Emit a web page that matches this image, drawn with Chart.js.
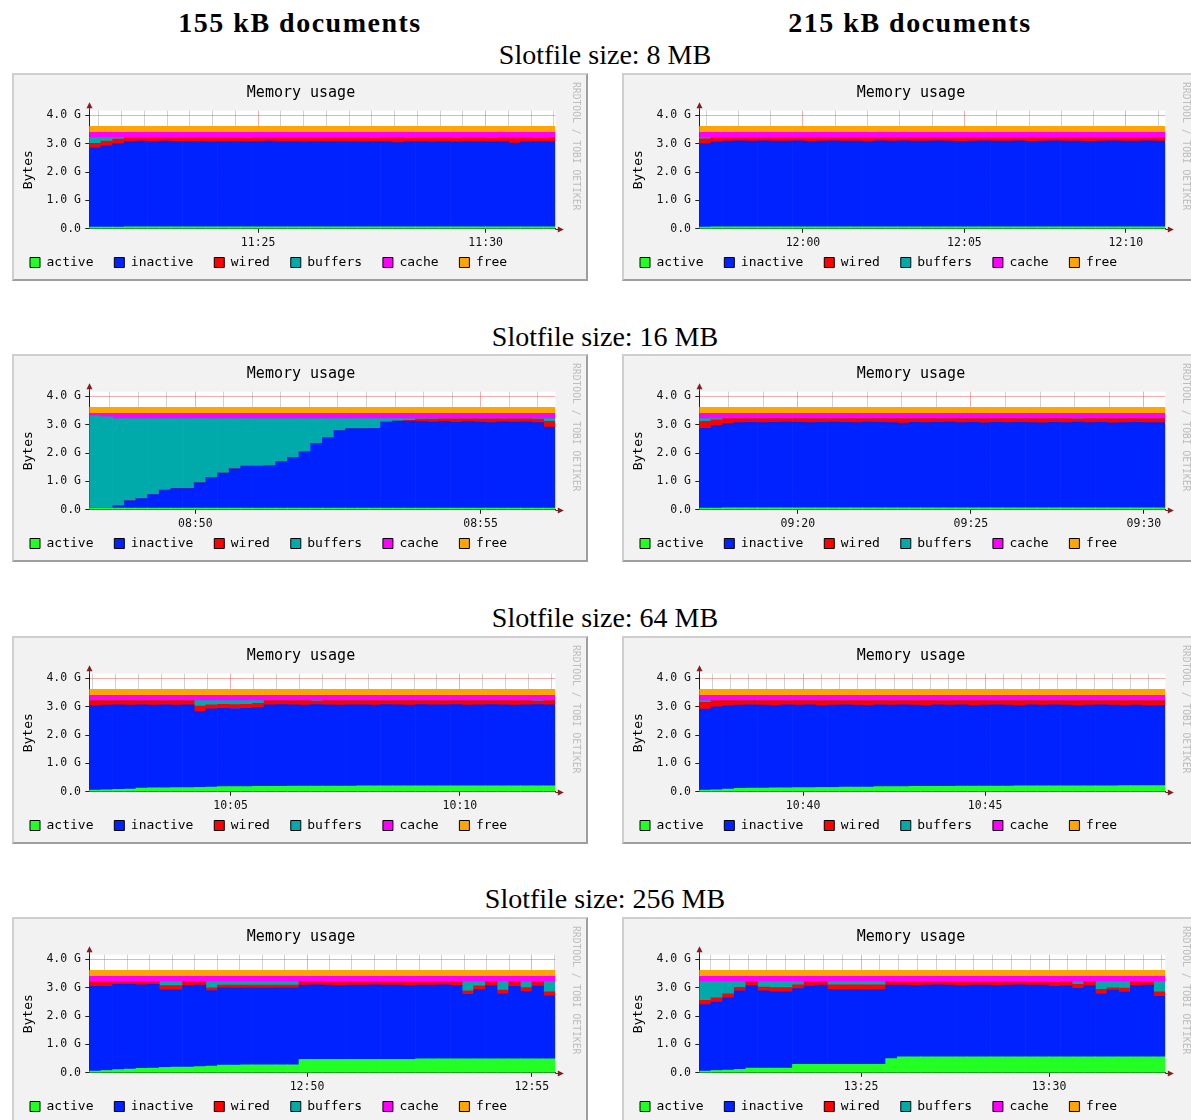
<!DOCTYPE html>
<html>
<head>
<meta charset="utf-8">
<script src="https://cdn.jsdelivr.net/npm/chart.js@4/dist/chart.umd.min.js"></script>
<style>
  html, body { margin: 0; padding: 0; background: #fff; }
  body { width: 1191px; height: 1120px; position: relative; overflow: hidden; }
  .colhead, .rowhead {
    position: absolute; white-space: nowrap; transform: translateX(-50%);
    font-family: "Liberation Serif", serif; font-size: 28px; line-height: 28px; color: #000;
  }
  .colhead { font-weight: bold; letter-spacing: 1.5px; top: 9px; }
  .rowhead { left: 605px; }
  .panel {
    position: absolute; width: 576px; height: 208px; box-sizing: border-box;
    background: #f2f2f2; border: 2px solid; border-color: #cfcfcf #9e9e9e #9e9e9e #cfcfcf;
    overflow: hidden;
  }
  .panel canvas { position: absolute; left: 0; top: 0; }
</style>
</head>
<body>
<div class="colhead" style="left:300px">155 kB documents</div>
<div class="colhead" style="left:910px">215 kB documents</div>
<div class="rowhead" style="top:41px">Slotfile size: 8 MB</div>
<div class="rowhead" style="top:323px">Slotfile size: 16 MB</div>
<div class="rowhead" style="top:604px">Slotfile size: 64 MB</div>
<div class="rowhead" style="top:885px">Slotfile size: 256 MB</div>

<script>
// memory in GB, 40 samples per graph, stacked in this order:
// active, inactive, wired, buffers, cache, free
const cacheBand = [
  0.19,0.19,0.19,0.19,0.19,0.19,0.19,0.19,0.19,0.19,
  0.19,0.19,0.19,0.19,0.19,0.19,0.19,0.19,0.19,0.19,
  0.19,0.19,0.19,0.19,0.19,0.19,0.19,0.19,0.19,0.19,
  0.19,0.19,0.19,0.19,0.19,0.19,0.19,0.19,0.19,0.19];
const freeBand = [
  0.21,0.21,0.21,0.21,0.21,0.21,0.21,0.21,0.21,0.21,
  0.21,0.21,0.21,0.21,0.21,0.21,0.21,0.21,0.21,0.21,
  0.21,0.21,0.21,0.21,0.21,0.21,0.21,0.21,0.21,0.21,
  0.21,0.21,0.21,0.21,0.21,0.21,0.21,0.21,0.21,0.21];

// time window of each graph (minutes after midnight)
const start_8_155 = 681.29,  span_8_155 = 10.24;
const start_8_215 = 716.79,  span_8_215 = 14.43;
const start_16_155 = 528.14, span_16_155 = 8.17;
const start_16_215 = 557.15, span_16_215 = 13.47;
const start_64_155 = 601.92, span_64_155 = 10.16;
const start_64_215 = 637.15, span_64_215 = 12.80;
const start_256_155 = 765.16, span_256_155 = 10.36;
const start_256_215 = 800.70, span_256_215 = 12.39;

// --- 8 MB, 155 kB
const act_8_155 = [
  0.06,0.06,0.06,0.07,0.07,0.07,0.07,0.07,0.07,0.07,
  0.07,0.07,0.07,0.07,0.07,0.07,0.07,0.07,0.07,0.07,
  0.07,0.07,0.07,0.07,0.07,0.07,0.07,0.07,0.07,0.07,
  0.07,0.07,0.07,0.07,0.07,0.07,0.07,0.07,0.07,0.07];
const inact_8_155 = [
  2.80,2.87,2.95,3.01,3.03,3.02,3.03,3.02,3.01,3.02,
  3.00,3.01,3.02,3.01,3.02,3.03,3.02,3.01,3.00,3.02,
  3.01,3.02,3.01,3.00,3.02,3.01,2.97,3.01,3.02,3.00,
  3.02,2.99,3.01,3.02,3.00,3.01,2.96,3.00,3.02,3.01];
const wired_8_155 = [
  0.16,0.17,0.16,0.13,0.12,0.13,0.12,0.13,0.14,0.13,
  0.15,0.14,0.13,0.12,0.13,0.12,0.13,0.14,0.15,0.13,
  0.14,0.13,0.14,0.15,0.11,0.14,0.18,0.12,0.13,0.15,
  0.13,0.14,0.14,0.13,0.13,0.14,0.19,0.15,0.11,0.14];
const buf_8_155 = [
  0.20,0.12,0.05,0.01,0,0,0,0,0,0,
  0,0,0,0.02,0,0,0,0,0,0,
  0,0,0,0,0.02,0,0,0.02,0,0,
  0,0.02,0,0,0.02,0,0,0,0.02,0];

// --- 8 MB, 215 kB
const act_8_215 = [
  0.06,0.07,0.07,0.07,0.07,0.07,0.07,0.07,0.07,0.07,
  0.07,0.07,0.07,0.07,0.07,0.07,0.07,0.07,0.07,0.07,
  0.07,0.07,0.07,0.07,0.07,0.07,0.07,0.07,0.07,0.07,
  0.07,0.07,0.07,0.07,0.07,0.07,0.07,0.07,0.07,0.07];
const inact_8_215 = [
  2.95,3.00,3.03,3.04,3.03,3.04,3.03,3.03,3.04,3.02,
  3.03,3.04,3.03,3.03,3.02,3.04,3.03,3.04,3.03,3.03,
  3.04,3.03,3.02,3.03,3.04,3.03,3.03,3.04,3.02,3.03,
  3.04,3.03,3.03,3.02,3.03,3.04,3.03,3.03,3.04,3.03];
const wired_8_215 = [
  0.17,0.15,0.12,0.11,0.12,0.11,0.12,0.12,0.11,0.13,
  0.12,0.11,0.12,0.12,0.13,0.11,0.12,0.11,0.12,0.12,
  0.11,0.12,0.13,0.12,0.11,0.12,0.12,0.11,0.13,0.12,
  0.11,0.12,0.12,0.13,0.12,0.11,0.12,0.12,0.11,0.12];
const buf_8_215 = [
  0.04,0,0,0,0,0,0,0,0,0,
  0,0,0,0,0,0,0,0,0,0,
  0,0,0,0,0,0,0,0,0,0,
  0,0,0,0,0,0,0,0,0,0];

// --- 16 MB, 155 kB
const act_16_155 = [
  0.06,0.06,0.06,0.06,0.06,0.06,0.06,0.06,0.06,0.06,
  0.06,0.06,0.06,0.06,0.06,0.06,0.06,0.06,0.06,0.06,
  0.06,0.06,0.06,0.06,0.06,0.06,0.06,0.06,0.06,0.06,
  0.06,0.06,0.06,0.06,0.06,0.06,0.06,0.06,0.06,0.06];
const inact_16_155 = [
  0,0,0.09,0.26,0.34,0.48,0.64,0.69,0.69,0.89,
  1.09,1.24,1.39,1.48,1.48,1.50,1.64,1.79,1.99,2.29,
  2.49,2.74,2.81,2.81,2.82,3.04,3.07,3.07,3.06,3.04,
  3.06,3.03,3.06,3.04,3.02,3.05,3.04,3.05,3.02,2.86];
const wired_16_155 = [
  0,0,0,0,0,0,0,0,0,0,
  0,0,0,0,0,0,0,0,0,0,
  0,0,0,0,0,0,0,0.03,0.08,0.10,
  0.09,0.12,0.09,0.11,0.13,0.10,0.11,0.10,0.12,0.20];
const buf_16_155 = [
  3.26,3.22,3.07,2.90,2.82,2.68,2.52,2.47,2.47,2.27,
  2.07,1.92,1.77,1.68,1.68,1.66,1.52,1.37,1.17,0.87,
  0.67,0.42,0.35,0.35,0.34,0.12,0.09,0.06,0.02,0.02,
  0.01,0.01,0.01,0.01,0.01,0.01,0.01,0.01,0.02,0.10];
const cache_16_155 = [
  0.09,0.13,0.19,0.19,0.19,0.19,0.19,0.19,0.19,0.19,
  0.19,0.19,0.19,0.19,0.19,0.19,0.19,0.19,0.19,0.19,
  0.19,0.19,0.19,0.19,0.19,0.19,0.19,0.19,0.19,0.19,
  0.19,0.19,0.19,0.19,0.19,0.19,0.19,0.19,0.19,0.19];

// --- 16 MB, 215 kB
const act_16_215 = [
  0.06,0.06,0.07,0.07,0.07,0.07,0.07,0.07,0.07,0.07,
  0.07,0.07,0.07,0.07,0.07,0.07,0.07,0.07,0.07,0.07,
  0.07,0.07,0.07,0.07,0.07,0.07,0.07,0.07,0.07,0.07,
  0.07,0.07,0.07,0.07,0.07,0.07,0.07,0.07,0.07,0.07];
const inact_16_215 = [
  2.82,2.92,2.98,3.01,3.02,3.01,3.02,3.03,3.02,3.01,
  3.02,3.03,3.02,3.01,3.03,3.02,3.01,2.99,3.02,3.01,
  3.02,3.03,3.01,3.02,3.00,3.02,3.01,3.02,3.01,3.00,
  3.02,3.01,3.03,3.01,3.02,3.00,3.01,3.02,3.01,3.01];
const wired_16_215 = [
  0.24,0.20,0.17,0.14,0.13,0.14,0.13,0.12,0.13,0.14,
  0.13,0.12,0.13,0.14,0.12,0.13,0.14,0.16,0.13,0.14,
  0.13,0.12,0.14,0.13,0.15,0.13,0.14,0.13,0.14,0.15,
  0.13,0.14,0.11,0.14,0.13,0.15,0.14,0.13,0.14,0.14];
const buf_16_215 = [
  0.10,0.04,0,0,0,0,0,0,0,0,
  0,0,0,0,0,0,0,0,0,0,
  0,0,0,0,0,0,0,0,0,0,
  0,0,0.01,0,0,0,0,0,0,0];

// --- 64 MB, 155 kB
const act_64_155 = [
  0.06,0.07,0.09,0.10,0.13,0.14,0.14,0.15,0.15,0.16,
  0.17,0.18,0.18,0.18,0.19,0.19,0.19,0.20,0.20,0.20,
  0.20,0.20,0.20,0.21,0.21,0.21,0.21,0.21,0.21,0.21,
  0.21,0.21,0.21,0.21,0.21,0.21,0.21,0.21,0.21,0.21];
const inact_64_155 = [
  2.98,2.99,2.98,2.96,2.94,2.92,2.93,2.91,2.92,2.67,
  2.76,2.77,2.76,2.77,2.79,2.88,2.89,2.87,2.86,2.88,
  2.87,2.86,2.87,2.86,2.85,2.87,2.86,2.85,2.87,2.86,
  2.86,2.87,2.85,2.86,2.87,2.86,2.85,2.86,2.87,2.86];
const wired_64_155 = [
  0.18,0.16,0.15,0.16,0.15,0.16,0.15,0.16,0.15,0.20,
  0.14,0.14,0.14,0.14,0.14,0.15,0.14,0.15,0.16,0.12,
  0.15,0.16,0.15,0.15,0.16,0.14,0.15,0.16,0.14,0.15,
  0.15,0.14,0.16,0.15,0.14,0.15,0.16,0.15,0.12,0.15];
const buf_64_155 = [
  0,0,0,0,0,0,0,0,0,0.19,
  0.15,0.13,0.14,0.13,0.10,0,0,0,0,0.02,
  0,0,0,0,0,0,0,0,0,0,
  0,0,0,0,0,0,0,0,0.02,0];

// --- 64 MB, 215 kB
const act_64_215 = [
  0.06,0.07,0.10,0.12,0.13,0.13,0.14,0.14,0.15,0.15,
  0.16,0.16,0.17,0.17,0.17,0.18,0.18,0.18,0.19,0.19,
  0.19,0.19,0.20,0.20,0.20,0.20,0.20,0.21,0.21,0.21,
  0.21,0.21,0.21,0.21,0.21,0.21,0.22,0.22,0.22,0.22];
const inact_64_215 = [
  2.86,2.93,2.94,2.94,2.94,2.93,2.91,2.93,2.91,2.92,
  2.89,2.90,2.90,2.89,2.88,2.89,2.88,2.89,2.87,2.86,
  2.88,2.87,2.87,2.85,2.86,2.87,2.86,2.84,2.86,2.85,
  2.86,2.85,2.84,2.85,2.86,2.85,2.83,2.84,2.82,2.83];
const wired_64_215 = [
  0.24,0.22,0.18,0.16,0.15,0.16,0.17,0.15,0.16,0.15,
  0.17,0.16,0.15,0.16,0.17,0.15,0.16,0.15,0.16,0.17,
  0.15,0.16,0.15,0.17,0.16,0.15,0.16,0.17,0.15,0.16,
  0.15,0.16,0.17,0.16,0.15,0.16,0.17,0.16,0.18,0.17];
const buf_64_215 = [
  0.06,0,0,0,0,0,0,0,0,0,
  0,0,0,0,0,0,0,0,0,0,
  0,0,0,0,0,0,0,0,0,0,
  0,0,0,0,0,0,0,0,0,0];

// --- 256 MB, 155 kB
const act_256_155 = [
  0.06,0.08,0.11,0.13,0.16,0.17,0.19,0.20,0.20,0.22,
  0.24,0.27,0.27,0.28,0.28,0.28,0.28,0.28,0.48,0.48,
  0.48,0.48,0.48,0.48,0.48,0.48,0.48,0.48,0.49,0.49,
  0.49,0.49,0.49,0.49,0.49,0.49,0.49,0.49,0.49,0.49];
const inact_256_155 = [
  2.99,2.97,3.01,2.99,2.95,2.95,2.74,2.73,2.88,2.88,
  2.66,2.73,2.73,2.72,2.72,2.72,2.72,2.72,2.62,2.63,
  2.62,2.61,2.62,2.62,2.63,2.62,2.62,2.61,2.61,2.61,
  2.62,2.60,2.28,2.46,2.59,2.31,2.56,2.39,2.57,2.24];
const wired_256_155 = [
  0.17,0.17,0.10,0.10,0.11,0.10,0.15,0.15,0.14,0.12,
  0.10,0.10,0.10,0.10,0.10,0.10,0.10,0.10,0.12,0.11,
  0.12,0.13,0.12,0.12,0.11,0.12,0.12,0.13,0.12,0.12,
  0.11,0.13,0.12,0.12,0.14,0.12,0.17,0.13,0.16,0.14];
const buf_256_155 = [
  0,0,0,0,0,0,0.14,0.14,0,0,
  0.22,0.12,0.12,0.12,0.12,0.12,0.12,0.12,0,0,
  0,0,0,0,0,0,0,0,0,0,
  0,0,0.33,0.15,0,0.30,0,0.21,0,0.35];

// --- 256 MB, 215 kB
const act_256_215 = [
  0.06,0.08,0.10,0.12,0.17,0.17,0.17,0.17,0.30,0.30,
  0.30,0.30,0.30,0.30,0.30,0.30,0.50,0.56,0.56,0.56,
  0.56,0.56,0.56,0.56,0.56,0.56,0.56,0.56,0.56,0.56,
  0.56,0.56,0.56,0.56,0.56,0.56,0.56,0.56,0.56,0.56];
const inact_256_215 = [
  2.35,2.42,2.55,2.77,2.91,2.72,2.69,2.69,2.67,2.76,
  2.80,2.65,2.65,2.65,2.65,2.65,2.60,2.54,2.53,2.54,
  2.55,2.54,2.53,2.54,2.54,2.53,2.54,2.55,2.54,2.54,
  2.49,2.52,2.42,2.52,2.24,2.36,2.29,2.52,2.54,2.14];
const wired_256_215 = [
  0.15,0.15,0.14,0.13,0.14,0.14,0.15,0.15,0.14,0.16,
  0.12,0.16,0.16,0.16,0.16,0.16,0.12,0.12,0.13,0.12,
  0.11,0.12,0.13,0.12,0.12,0.13,0.12,0.11,0.12,0.12,
  0.15,0.14,0.14,0.14,0.15,0.08,0.14,0.14,0.12,0.16];
const buf_256_215 = [
  0.66,0.57,0.43,0.20,0,0.19,0.21,0.21,0.11,0,
  0,0.11,0.11,0.11,0.11,0.11,0,0,0,0,
  0,0,0,0,0,0,0,0,0,0,
  0.02,0,0.10,0,0.27,0.22,0.23,0,0,0.36];

const seriesNames = ['active', 'inactive', 'wired', 'buffers', 'cache', 'free'];
const yTickValues = [0, 0.5, 1, 1.5, 2, 2.5, 3, 3.5, 4];

const MONO = '"DejaVu Sans Mono", monospace';
const COLORS = ['#22ff22', '#0022ff', '#ff0000', '#00aaaa', '#ff00ff', '#ffa500'];
const MINOR = 'rgba(143,143,143,0.4)';
const MAJOR = 'rgba(222,79,79,0.45)';
const AXIS = '#1f1f1f';
const ARROW = '#801f1f';

const graphs = [
  { start: start_8_155, span: span_8_155, minor: 0.5,
    data: [act_8_155, inact_8_155, wired_8_155, buf_8_155, cacheBand, freeBand] },
  { start: start_8_215, span: span_8_215, minor: 1,
    data: [act_8_215, inact_8_215, wired_8_215, buf_8_215, cacheBand, freeBand] },
  { start: start_16_155, span: span_16_155, minor: 0.5,
    data: [act_16_155, inact_16_155, wired_16_155, buf_16_155, cache_16_155, freeBand] },
  { start: start_16_215, span: span_16_215, minor: 1,
    data: [act_16_215, inact_16_215, wired_16_215, buf_16_215, cacheBand, freeBand] },
  { start: start_64_155, span: span_64_155, minor: 0.5,
    data: [act_64_155, inact_64_155, wired_64_155, buf_64_155, cacheBand, freeBand] },
  { start: start_64_215, span: span_64_215, minor: 0.5,
    data: [act_64_215, inact_64_215, wired_64_215, buf_64_215, cacheBand, freeBand] },
  { start: start_256_155, span: span_256_155, minor: 0.5,
    data: [act_256_155, inact_256_155, wired_256_155, buf_256_155, cacheBand, freeBand] },
  { start: start_256_215, span: span_256_215, minor: 0.5,
    data: [act_256_215, inact_256_215, wired_256_215, buf_256_215, cacheBand, freeBand] }
];

const onStep = (v, step) => Math.abs(v / step - Math.round(v / step)) < 1e-6;
const hhmm = v => {
  const m = Math.round(v);
  return String(Math.floor(m / 60)).padStart(2, '0') + ':' + String(m % 60).padStart(2, '0');
};

// white canvas, axis arrows and the little credit line on the right
const rrdDecor = {
  id: 'rrdDecor',
  beforeDraw(chart) {
    const { ctx, chartArea: a } = chart;
    ctx.save();
    ctx.fillStyle = '#ffffff';
    ctx.fillRect(a.left, a.top, a.right - a.left, a.bottom - a.top);
    ctx.restore();
  },
  afterDraw(chart) {
    const { ctx, chartArea: a } = chart;
    const x0 = Math.round(a.left) + 0.5;
    const y0 = Math.round(a.bottom) + 0.5;
    ctx.save();
    ctx.strokeStyle = ARROW;
    ctx.fillStyle = ARROW;
    ctx.lineWidth = 1;
    ctx.beginPath();
    ctx.moveTo(a.right, y0); ctx.lineTo(a.right + 4, y0);
    ctx.moveTo(x0, a.top); ctx.lineTo(x0, a.top - 3);
    ctx.stroke();
    ctx.beginPath();
    ctx.moveTo(a.right + 8.5, y0); ctx.lineTo(a.right + 2.5, y0 - 3); ctx.lineTo(a.right + 2.5, y0 + 3);
    ctx.closePath(); ctx.fill();
    ctx.beginPath();
    ctx.moveTo(x0, a.top - 8.5); ctx.lineTo(x0 - 3, a.top - 2.5); ctx.lineTo(x0 + 3, a.top - 2.5);
    ctx.closePath(); ctx.fill();

    ctx.translate(chart.width - 10, 7);
    ctx.rotate(Math.PI / 2);
    ctx.font = '9.7px ' + MONO;
    ctx.fillStyle = '#bdbdbd';
    ctx.textAlign = 'left';
    ctx.textBaseline = 'middle';
    ctx.fillText('RRDTOOL / TOBI OETIKER', 0, 0);
    ctx.restore();
  }
};

function drawGraph(canvas, g) {
  const n = g.data[0].length;
  const labels = g.data[0].map((_, i) => g.start + g.span * (i + 0.5) / n);

  return new Chart(canvas, {
    type: 'bar',
    data: {
      labels: labels,
      datasets: g.data.map((values, k) => ({
        label: seriesNames[k],
        data: values,
        backgroundColor: COLORS[k],
        borderWidth: 0,
        barPercentage: 1,
        categoryPercentage: 1
      }))
    },
    options: {
      responsive: false,
      animation: false,
      events: [],
      layout: { padding: { left: 10.8, right: 8.8, top: 0, bottom: 0 } },
      plugins: {
        tooltip: { enabled: false },
        title: {
          display: true,
          text: 'Memory usage',
          color: '#000',
          font: { family: MONO, size: 15, weight: 'normal' },
          padding: { top: 9.5, bottom: 8.2 }
        },
        legend: {
          position: 'bottom',
          align: 'start',
          maxHeight: 29,
          labels: {
            boxWidth: 10,
            boxHeight: 10,
            padding: 5.2,
            color: '#000',
            font: { family: MONO, size: 13 },
            // two trailing blanks give the wide gaps between rrdtool legend entries
            generateLabels: chart =>
              Chart.defaults.plugins.legend.labels.generateLabels(chart).map(item =>
                Object.assign(item, { text: item.text + '  ', strokeStyle: '#000', lineWidth: 1 }))
          }
        }
      },
      scales: {
        x: {
          type: 'linear',
          stacked: true,
          offset: false,
          min: g.start,
          max: g.start + g.span,
          z: 1,
          afterFit: s => { s.height = 22; },
          afterBuildTicks: axis => {
            const ticks = [];
            for (let k = Math.ceil(axis.min / g.minor - 1e-9); k * g.minor <= axis.max + 1e-9; k++) {
              ticks.push({ value: k * g.minor });
            }
            axis.ticks = ticks;
          },
          grid: {
            offset: false,
            lineWidth: 1,
            tickLength: 4,
            color: c => onStep(c.tick.value, 5) ? MAJOR : MINOR,
            tickColor: c => onStep(c.tick.value, 5) ? AXIS : 'rgba(0,0,0,0)'
          },
          border: { color: AXIS, width: 1 },
          ticks: {
            autoSkip: false,
            maxRotation: 0,
            minRotation: 0,
            padding: 3.4,
            color: '#111',
            font: { family: MONO, size: 11.5 },
            callback: v => onStep(v, 5) ? hhmm(v) : ''
          }
        },
        y: {
          stacked: true,
          min: 0,
          max: 4.17,
          z: 1,
          afterFit: s => { s.width = 64.5; },
          afterBuildTicks: axis => { axis.ticks = yTickValues.map(v => ({ value: v })); },
          title: {
            display: true,
            text: 'Bytes',
            color: '#000',
            font: { family: MONO, size: 13 },
            padding: { top: -4.3, bottom: 0 }
          },
          grid: {
            lineWidth: 1,
            tickLength: 4,
            color: c => Number.isInteger(c.tick.value) ? MAJOR : MINOR,
            tickColor: c => Number.isInteger(c.tick.value) ? AXIS : 'rgba(0,0,0,0)'
          },
          border: { color: AXIS, width: 1 },
          ticks: {
            padding: 4.3,
            color: '#111',
            font: { family: MONO, size: 11.5 },
            callback: v => Number.isInteger(v) ? (v === 0 ? '0.0' : v.toFixed(1) + ' G') : ''
          }
        },
        // empty right-hand margin that holds the credit text
        yRight: {
          position: 'right',
          display: true,
          afterFit: s => { s.width = 21.9; },
          grid: { display: false },
          border: { display: false },
          ticks: { display: false }
        }
      }
    },
    plugins: [rrdDecor]
  });
}

const panelTops = [73, 354, 636, 917];
const panelLefts = [12, 622];

graphs.forEach((g, idx) => {
  const panel = document.createElement('div');
  panel.className = 'panel';
  panel.style.left = panelLefts[idx % 2] + 'px';
  panel.style.top = panelTops[Math.floor(idx / 2)] + 'px';
  const canvas = document.createElement('canvas');
  canvas.width = 572;
  canvas.height = 204;
  panel.appendChild(canvas);
  document.body.appendChild(panel);
  drawGraph(canvas, g);
});
</script>
</body>
</html>
